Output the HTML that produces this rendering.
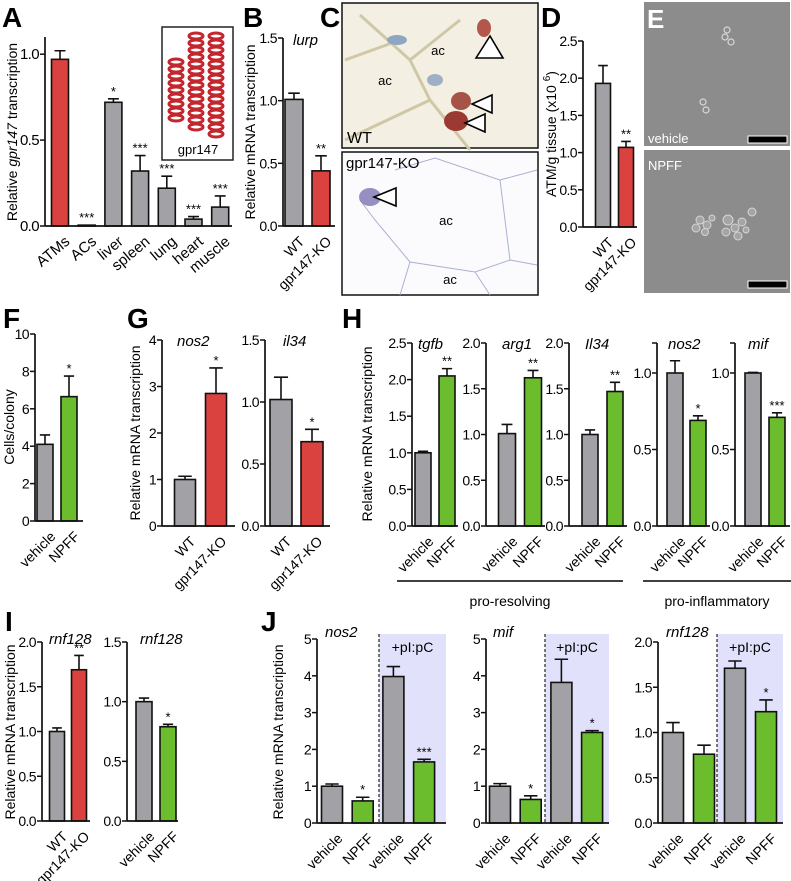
<!DOCTYPE html>
<html><head><meta charset="utf-8"><style>
html,body{margin:0;padding:0;background:#fff;}
svg{display:block;font-family:"Liberation Sans",Arial,sans-serif;}
</style></head><body>
<svg id="fig" width="791" height="881" viewBox="0 0 791 881" xmlns="http://www.w3.org/2000/svg">
<g id="static">
  <!-- Panel letters -->
  <g font-weight="bold" font-size="28">
    <text x="2" y="27">A</text>
    <text x="243" y="27">B</text>
    <text x="320" y="27">C</text>
    <text x="541" y="27">D</text>
    <text x="3" y="328">F</text>
    <text x="127" y="328">G</text>
    <text x="342" y="328">H</text>
    <text x="5" y="631">I</text>
    <text x="261" y="631">J</text>
  </g>
  <!-- Inset A -->
  <g>
    <rect x="162" y="27" width="71" height="133" fill="#fff" stroke="#222" stroke-width="1.5"/>
    <g id="helix" fill="none" stroke="#c4262e" stroke-width="3"></g>
    <text x="198" y="154" font-size="13" text-anchor="middle">gpr147</text>
  </g>
  <!-- Panel C images -->
  <g>
    <rect x="342" y="3" width="196" height="145" fill="#f3f0e3" stroke="#111" stroke-width="1.5"/>
    <path d="M360 15 L410 60 L460 20 M410 60 L430 100 L470 150 M430 100 L345 140 M400 40 L345 60" stroke="#cfc7a6" stroke-width="3" fill="none"/>
    <ellipse cx="397" cy="40" rx="10" ry="5" fill="#8fa6c2"/>
    <ellipse cx="435" cy="80" rx="8" ry="6" fill="#9fb0c5"/>
    <ellipse cx="484" cy="28" rx="7" ry="9" fill="#b4574a"/>
    <ellipse cx="461" cy="101" rx="10" ry="9" fill="#a65446"/>
    <ellipse cx="456" cy="121" rx="12" ry="10" fill="#9b3a32"/>
    <text x="438" y="55" font-size="13" text-anchor="middle">ac</text>
    <text x="385" y="85" font-size="13" text-anchor="middle">ac</text>
    <path d="M476 58 L490 36 L503 58 Z M472 104 L492 95 L492 113 Z M465 123 L485 114 L485 132 Z" fill="#fff" stroke="#000" stroke-width="1.6"/>
    <text x="347" y="143" font-size="16">WT</text>
  </g>
  <g>
    <rect x="342" y="152" width="196" height="143" fill="#fbfbfd" stroke="#111" stroke-width="1.5"/>
    <path d="M395 170 L435 158 L500 180 L510 260 L475 272 L410 262 L375 220 L360 200 M500 180 L537 170 M510 260 L537 265 M410 262 L400 295 M475 272 L490 295" stroke="#a9b1cf" stroke-width="1" fill="none"/>
    <ellipse cx="370" cy="197" rx="11" ry="9" fill="#7d74b3" opacity="0.8"/>
    <path d="M374 197 L396 188 L396 206 Z" fill="#fff" stroke="#000" stroke-width="1.6"/>
    <text x="446" y="225" font-size="13" text-anchor="middle">ac</text>
    <text x="450" y="284" font-size="13" text-anchor="middle">ac</text>
    <text x="346" y="168" font-size="15">gpr147-KO</text>
  </g>
  <!-- Panel E images -->
  <g>
    <rect x="644" y="2" width="146" height="144" fill="#8c8c8c"/>
    <g fill="none" stroke="#d8d8d8" stroke-width="1.2">
      <circle cx="727" cy="30" r="3"/><circle cx="731" cy="42" r="3"/><circle cx="725" cy="37" r="3"/>
      <circle cx="703" cy="102" r="3"/><circle cx="706" cy="110" r="3"/>
    </g>
    <text x="649" y="143" font-size="15" fill="#fff" font-weight="normal" style="display:none">E</text>
    <text x="648" y="143" font-size="13" fill="#fff">vehicle</text>
    <rect x="748" y="136" width="39" height="7" fill="#000" stroke="#fff" stroke-width="1"/>
  </g>
  <text x="647" y="28" font-size="26" font-weight="bold" fill="#fff">E</text>
  <g>
    <rect x="644" y="150" width="146" height="143" fill="#8c8c8c"/>
    <g fill="#a5a5a5" stroke="#d5d5d5" stroke-width="1">
      <circle cx="700" cy="220" r="4"/><circle cx="707" cy="225" r="4"/><circle cx="696" cy="228" r="4"/><circle cx="705" cy="232" r="3.5"/><circle cx="712" cy="218" r="3"/>
      <circle cx="728" cy="220" r="5"/><circle cx="735" cy="228" r="4"/><circle cx="726" cy="232" r="4"/><circle cx="742" cy="222" r="4"/><circle cx="738" cy="236" r="4"/><circle cx="752" cy="212" r="4"/><circle cx="746" cy="230" r="3"/>
    </g>
    <text x="648" y="170" font-size="13" fill="#fff">NPFF</text>
    <rect x="748" y="281" width="39" height="7" fill="#000" stroke="#fff" stroke-width="1"/>
  </g>
  <!-- H group labels -->
  <g>
    <line x1="397" y1="581" x2="623" y2="581" stroke="#000" stroke-width="1.5"/>
    <text x="510" y="606" font-size="14" text-anchor="middle">pro-resolving</text>
    <line x1="643" y1="581" x2="791" y2="581" stroke="#000" stroke-width="1.5"/>
    <text x="717" y="606" font-size="14" text-anchor="middle">pro-inflammatory</text>
  </g>
  <!-- Shared y labels -->
  <g font-size="14" text-anchor="middle">
    <text transform="translate(17,132) rotate(-90)">Relative <tspan font-style="italic">gpr147</tspan> transcription</text>
    <text transform="translate(255,132) rotate(-90)">Relative mRNA transcription</text>
    <text transform="translate(556,134) rotate(-90)">ATM/g tissue (x10 <tspan dy="-6" font-size="10">6</tspan><tspan dy="6">)</tspan></text>
    <text transform="translate(14,427) rotate(-90)">Cells/colony</text>
    <text transform="translate(140,433) rotate(-90)">Relative mRNA transcription</text>
    <text transform="translate(372,434) rotate(-90)">Relative mRNA transcription</text>
    <text transform="translate(15,732) rotate(-90)">Relative mRNA transcription</text>
    <text transform="translate(283,732) rotate(-90)">Relative mRNA transcription</text>
  </g>
</g>
<g id="charts"></g>
</svg>
<script>
// ===== Data arrays =====
const A_categories = ["ATMs","ACs","liver","spleen","lung","heart","muscle"];
const A_values = [0.97,0.005,0.72,0.32,0.22,0.04,0.11];
const A_errors = [0.05,0,0.02,0.09,0.07,0.015,0.065];
const A_stars = ["","***","*","***","***","***","***"];
const A_ticks = [0,0.5,1.0];
const A_tickLabels = ["0.0","0.5","1.0"];

const B_categories = ["WT","gpr147-KO"];
const B_values = [1.01,0.44];
const B_errors = [0.05,0.12];
const B_stars = ["","**"];
const B_ticks = [0,0.5,1.0,1.5];
const B_tickLabels = ["0.0","0.5","1.0","1.5"];

const D_categories = ["WT","gpr147-KO"];
const D_values = [1.93,1.07];
const D_errors = [0.24,0.08];
const D_stars = ["","**"];
const D_ticks = [0,0.5,1.0,1.5,2.0,2.5];
const D_tickLabels = ["0.0","0.5","1.0","1.5","2.0","2.5"];

const F_categories = ["vehicle","NPFF"];
const F_values = [4.1,6.65];
const F_errors = [0.5,1.1];
const F_stars = ["","*"];
const F_ticks = [0,2,4,6,8,10];
const F_tickLabels = ["0","2","4","6","8","10"];

const G1_categories = ["WT","gpr147-KO"];
const G1_values = [1.0,2.85];
const G1_errors = [0.07,0.55];
const G1_stars = ["","*"];
const G1_ticks = [0,1,2,3,4];
const G1_tickLabels = ["0","1","2","3","4"];

const G2_categories = ["WT","gpr147-KO"];
const G2_values = [1.02,0.68];
const G2_errors = [0.18,0.1];
const G2_stars = ["","*"];
const G2_ticks = [0,0.5,1.0,1.5];
const G2_tickLabels = ["0.0","0.5","1.0","1.5"];

const H1_categories = ["vehicle","NPFF"];
const H1_values = [1.0,2.05];
const H1_errors = [0.02,0.1];
const H1_stars = ["","**"];
const H1_ticks = [0,0.5,1.0,1.5,2.0,2.5];
const H1_tickLabels = ["0.0","0.5","1.0","1.5","2.0","2.5"];

const H2_categories = ["vehicle","NPFF"];
const H2_values = [1.01,1.62];
const H2_errors = [0.1,0.08];
const H2_stars = ["","**"];
const H2_ticks = [0,0.5,1.0,1.5,2.0];
const H2_tickLabels = ["0.0","0.5","1.0","1.5","2.0"];

const H3_categories = ["vehicle","NPFF"];
const H3_values = [1.0,1.47];
const H3_errors = [0.05,0.1];
const H3_stars = ["","**"];
const H3_ticks = [0,0.5,1.0,1.5,2.0];
const H3_tickLabels = ["0.0","0.5","1.0","1.5","2.0"];

const H4_categories = ["vehicle","NPFF"];
const H4_values = [1.0,0.69];
const H4_errors = [0.08,0.03];
const H4_stars = ["","*"];
const H4_ticks = [0,0.5,1.0,1.196];
const H4_tickLabels = ["0.0","0.5","1.0",""];

const H5_categories = ["vehicle","NPFF"];
const H5_values = [1.0,0.71];
const H5_errors = [0.004,0.03];
const H5_stars = ["","***"];
const H5_ticks = [0,0.5,1.0,1.196];
const H5_tickLabels = ["0.0","0.5","1.0",""];

const I1_categories = ["WT","gpr147-KO"];
const I1_values = [1.0,1.69];
const I1_errors = [0.04,0.16];
const I1_stars = ["","**"];
const I1_ticks = [0,0.5,1.0,1.5,2.0];
const I1_tickLabels = ["0.0","0.5","1.0","1.5","2.0"];

const I2_categories = ["vehicle","NPFF"];
const I2_values = [1.0,0.79];
const I2_errors = [0.03,0.02];
const I2_stars = ["","*"];
const I2_ticks = [0,0.5,1.0,1.5];
const I2_tickLabels = ["0.0","0.5","1.0","1.5"];

const J1_categories = ["vehicle","NPFF","vehicle","NPFF"];
const J1_values = [1.0,0.6,3.98,1.66];
const J1_errors = [0.06,0.1,0.27,0.07];
const J1_stars = ["","*","","***"];
const J1_ticks = [0,1,2,3,4,5];
const J1_tickLabels = ["0","1","2","3","4","5"];

const J2_categories = ["vehicle","NPFF","vehicle","NPFF"];
const J2_values = [1.0,0.64,3.82,2.46];
const J2_errors = [0.07,0.1,0.63,0.05];
const J2_stars = ["","*","","*"];
const J2_ticks = [0,1,2,3,4,5];
const J2_tickLabels = ["0","1","2","3","4","5"];

const J3_categories = ["vehicle","NPFF","vehicle","NPFF"];
const J3_values = [1.0,0.76,1.71,1.23];
const J3_errors = [0.11,0.1,0.08,0.13];
const J3_stars = ["","","","*"];
const J3_ticks = [0,0.5,1.0,1.5,2.0];
const J3_tickLabels = ["0.0","0.5","1.0","1.5","2.0"];

// ===== Rendering =====
const NS = "http://www.w3.org/2000/svg";
const GRAY = "#a2a2a6", RED = "#d9423f", GREEN = "#6bbd2d";
const root = document.getElementById("charts");

function mk(tag, attrs, parent) {
  const e = document.createElementNS(NS, tag);
  for (const k in attrs) e.setAttribute(k, attrs[k]);
  parent.appendChild(e);
  return e;
}

// helix inset decoration
(function(){
  const h = document.getElementById("helix");
  const cols = [[176,62,118],[196,36,128],[216,36,140]];
  cols.forEach(c => {
    for (let y = c[1]; y <= c[2]; y += 7) {
      mk("ellipse", {cx:c[0], cy:y, rx:7, ry:3}, h);
    }
  });
})();

function drawChart(cfg) {
  const g = mk("g", {}, root);
  
  
  const yScale = v => cfg.y0 - (v / cfg.ymax) * (cfg.y0 - cfg.yTop);
  const xCenter = i => cfg.ax + cfg.offset + i * cfg.step;
  // shading
  if (cfg.shade) {
    const sx = cfg.shade[0], ex = cfg.shade[1];
    const r = mk("rect", {x:sx, y:cfg.shade[2], width:ex - sx, height:cfg.y0 - cfg.shade[2], fill:"#e2e1fb"}, g);
    
    
    const dl = mk("line", {x1:sx, y1:cfg.shade[2], x2:sx, y2:cfg.y0, stroke:"#333", "stroke-width":1.3, "stroke-dasharray":"3,2"}, g);
    
    
    const t = mk("text", {x:(sx + ex) / 2, y:cfg.shade[2] + 18, "font-size":14, "text-anchor":"middle"}, g);
    t.textContent = "+pI:pC";
    
    
  }
  // bars
  cfg.values.forEach((v, i) => {
    const cx = xCenter(i);
    const top = yScale(v);
    const et = yScale(v + cfg.errors[i]);
    if (cfg.errors[i] > 0) {
      const el = mk("path", {d:`M${cx} ${top} V${et} M${cx - cfg.bw * 0.32} ${et} H${cx + cfg.bw * 0.32}`, stroke:"#111", "stroke-width":1.6, fill:"none"}, g);
      
      
    }
    const b = mk("rect", {x:cx - cfg.bw / 2, y:top, width:cfg.bw, height:Math.max(cfg.y0 - top, 0.5), fill:cfg.colors[i], stroke:"#111", "stroke-width":1.6}, g);
    
    
    if (cfg.stars[i]) {
      const s = mk("text", {x:cx, y:et - 3, "font-size":13, "text-anchor":"middle"}, g);
      s.textContent = cfg.stars[i];
      
      
    }
    const lx = cx + 4, ly = cfg.y0 + 9;
    const l = mk("text", {x:lx, y:ly, "font-size":cfg.xfs || 14, "text-anchor":"end", transform:`rotate(${cfg.rot || -45} ${lx} ${ly})`, "dominant-baseline":"hanging"}, g);
    l.textContent = cfg.categories[i];
    
    
  });
  // axes
  const ya = mk("line", {x1:cfg.ax, y1:cfg.yTop, x2:cfg.ax, y2:cfg.y0, stroke:"#111", "stroke-width":1.7}, g);
  
  
  const xa = mk("line", {x1:cfg.ax, y1:cfg.y0, x2:cfg.end, y2:cfg.y0, stroke:"#111", "stroke-width":1.7}, g);
  
  
  cfg.ticks.forEach((t, i) => {
    const y = yScale(t);
    const tk = mk("line", {x1:cfg.ax - 5, y1:y, x2:cfg.ax, y2:y, stroke:"#111", "stroke-width":1.5}, g);
    
    
    if (cfg.tickLabels[i]) {
      const tl = mk("text", {x:cfg.ax - 6, y:y + 5, "font-size":cfg.tfs || 14, "text-anchor":"end", "letter-spacing":"-0.6"}, g);
      tl.textContent = cfg.tickLabels[i];
      
      
    }
  });
  if (cfg.title) {
    const tt = mk("text", {x:cfg.titleX, y:cfg.titleY, "font-size":15, "font-style":"italic"}, g);
    tt.textContent = cfg.title;
    
    
  }
}

const C7 = [RED, GRAY, GRAY, GRAY, GRAY, GRAY, GRAY];
drawChart({name:"chart-a", categories:A_categories, values:A_values, errors:A_errors, stars:A_stars, ticks:A_ticks, tickLabels:A_tickLabels, colors:C7, ax:45, y0:226, yTop:37, ymax:1.1, offset:15, step:26.7, bw:17, end:232, rot:-40, xfs:15, tfs:15});
drawChart({name:"chart-b-lurp", categories:B_categories, values:B_values, errors:B_errors, stars:B_stars, ticks:B_ticks, tickLabels:B_tickLabels, colors:[GRAY,RED], ax:283, y0:226, yTop:38, ymax:1.5, offset:11, step:27, bw:18, end:335, title:"lurp", titleX:293, titleY:45});
drawChart({name:"chart-d-atm", categories:D_categories, values:D_values, errors:D_errors, stars:D_stars, ticks:D_ticks, tickLabels:D_tickLabels, colors:[GRAY,RED], ax:583, y0:227, yTop:41, ymax:2.5, offset:20, step:23, bw:15, end:637});
drawChart({name:"chart-f-cells", categories:F_categories, values:F_values, errors:F_errors, stars:F_stars, ticks:F_ticks, tickLabels:F_tickLabels, colors:[GRAY,GREEN], ax:35, y0:521, yTop:334, ymax:10, offset:10, step:24, bw:16, end:83});
drawChart({name:"chart-g-nos2", categories:G1_categories, values:G1_values, errors:G1_errors, stars:G1_stars, ticks:G1_ticks, tickLabels:G1_tickLabels, colors:[GRAY,RED], ax:162, y0:526, yTop:340, ymax:4, offset:23, step:31, bw:21, end:235, title:"nos2", titleX:177, titleY:346});
drawChart({name:"chart-g-il34", categories:G2_categories, values:G2_values, errors:G2_errors, stars:G2_stars, ticks:G2_ticks, tickLabels:G2_tickLabels, colors:[GRAY,RED], ax:265, y0:526, yTop:340, ymax:1.5, offset:16, step:31, bw:22, end:330, title:"il34", titleX:283, titleY:346});
drawChart({name:"chart-h-tgfb", categories:H1_categories, values:H1_values, errors:H1_errors, stars:H1_stars, ticks:H1_ticks, tickLabels:H1_tickLabels, colors:[GRAY,GREEN], ax:412, y0:526, yTop:343, ymax:2.5, offset:11, step:24, bw:16, end:458, title:"tgfb", titleX:418, titleY:349});
drawChart({name:"chart-h-arg1", categories:H2_categories, values:H2_values, errors:H2_errors, stars:H2_stars, ticks:H2_ticks, tickLabels:H2_tickLabels, colors:[GRAY,GREEN], ax:486, y0:526, yTop:343, ymax:2.0, offset:21, step:26, bw:17, end:545, title:"arg1", titleX:502, titleY:349});
drawChart({name:"chart-h-il34", categories:H3_categories, values:H3_values, errors:H3_errors, stars:H3_stars, ticks:H3_ticks, tickLabels:H3_tickLabels, colors:[GRAY,GREEN], ax:569, y0:526, yTop:343, ymax:2.0, offset:21, step:25, bw:16, end:627, title:"Il34", titleX:585, titleY:349});
drawChart({name:"chart-h-nos2", categories:H4_categories, values:H4_values, errors:H4_errors, stars:H4_stars, ticks:H4_ticks, tickLabels:H4_tickLabels, colors:[GRAY,GREEN], ax:657, y0:526, yTop:343, ymax:1.196, offset:18, step:23, bw:16, end:710, title:"nos2", titleX:668, titleY:349});
drawChart({name:"chart-h-mif", categories:H5_categories, values:H5_values, errors:H5_errors, stars:H5_stars, ticks:H5_ticks, tickLabels:H5_tickLabels, colors:[GRAY,GREEN], ax:735, y0:526, yTop:343, ymax:1.196, offset:18, step:24, bw:16, end:790, title:"mif", titleX:748, titleY:349});
drawChart({name:"chart-i-rnf128-ko", categories:I1_categories, values:I1_values, errors:I1_errors, stars:I1_stars, ticks:I1_ticks, tickLabels:I1_tickLabels, colors:[GRAY,RED], ax:42, y0:821, yTop:642, ymax:2.0, offset:15, step:22, bw:15, end:90, title:"rnf128", titleX:49, titleY:644});
drawChart({name:"chart-i-rnf128-npff", categories:I2_categories, values:I2_values, errors:I2_errors, stars:I2_stars, ticks:I2_ticks, tickLabels:I2_tickLabels, colors:[GRAY,GREEN], ax:127, y0:821, yTop:642, ymax:1.5, offset:17, step:24, bw:16, end:178, title:"rnf128", titleX:140, titleY:644});
const C4 = [GRAY, GREEN, GRAY, GREEN];
drawChart({name:"chart-j-nos2", categories:J1_categories, values:J1_values, errors:J1_errors, stars:J1_stars, ticks:J1_ticks, tickLabels:J1_tickLabels, colors:C4, ax:317, y0:823, yTop:639, ymax:5, offset:15, step:30.7, bw:21, end:446, shade:[379,446,634], title:"nos2", titleX:325, titleY:637});
drawChart({name:"chart-j-mif", categories:J2_categories, values:J2_values, errors:J2_errors, stars:J2_stars, ticks:J2_ticks, tickLabels:J2_tickLabels, colors:C4, ax:486, y0:823, yTop:639, ymax:5, offset:14, step:30.7, bw:21, end:609, shade:[545,609,634], title:"mif", titleX:493, titleY:637});
drawChart({name:"chart-j-rnf128", categories:J3_categories, values:J3_values, errors:J3_errors, stars:J3_stars, ticks:J3_ticks, tickLabels:J3_tickLabels, colors:C4, ax:658, y0:823, yTop:642, ymax:2.0, offset:15, step:31, bw:21, end:783, shade:[717,783,634], title:"rnf128", titleX:666, titleY:637});
</script>
</body></html>
